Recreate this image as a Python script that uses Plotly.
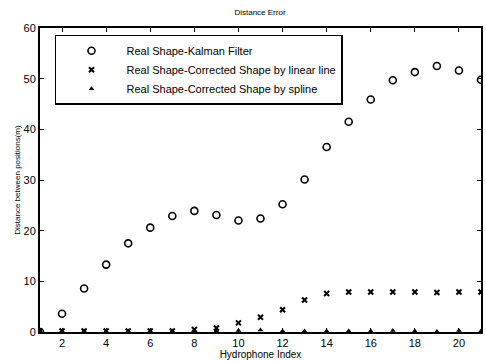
import plotly.graph_objects as go

hydrophone = list(range(1, 22))
kalman = [0.0, 3.6, 8.6, 13.3, 17.5, 20.6, 22.9, 23.9, 23.1, 22.0, 22.4, 25.2, 30.1, 36.5,
          41.5, 45.9, 49.7, 51.3, 52.5, 51.6, 49.8]
linear = [0.2, 0.2, 0.2, 0.2, 0.2, 0.2, 0.2, 0.5, 0.8, 1.8, 2.9, 4.4, 6.3, 7.6,
          7.9, 7.9, 7.9, 7.9, 7.8, 7.9, 7.9]
spline = [0.2, 0.2, 0.2, 0.1, 0.2, 0.2, 0.2, 0.2, 0.2, 0.3, 0.4, 0.2, 0.2, 0.2,
          0.2, 0.2, 0.3, 0.2, 0.1, 0.3, 0.2]
xticks = [2, 4, 6, 8, 10, 12, 14, 16, 18, 20]
yticks = [0, 10, 20, 30, 40, 50, 60]

fig = go.Figure()
fig.add_trace(go.Scatter(x=hydrophone, y=kalman, mode="markers",
                         name="Real Shape-Kalman Filter",
                         marker=dict(symbol="circle-open", size=7, color="black",
                                     line=dict(width=1.6, color="black"))))
fig.add_trace(go.Scatter(x=hydrophone, y=linear, mode="markers",
                         name="Real Shape-Corrected Shape by linear line",
                         marker=dict(symbol="x-thin-open", size=5, color="black",
                                     line=dict(width=2, color="black"))))
fig.add_trace(go.Scatter(x=hydrophone, y=spline, mode="markers",
                         name="Real Shape-Corrected Shape by spline",
                         marker=dict(symbol="triangle-up", size=5, color="black")))

axis_common = dict(showline=True, linecolor="black", linewidth=2, mirror="ticks",
                   ticks="inside", ticklen=4, tickcolor="black", showgrid=False,
                   zeroline=False, tickfont=dict(size=11, color="black", family="Arial Black, Liberation Sans"))

fig.update_xaxes(range=[1, 21], tickvals=xticks, **axis_common,
                 title=dict(text="Hydrophone Index", font=dict(size=10, color="black"), standoff=2))
fig.update_yaxes(range=[0, 60], tickvals=yticks, **axis_common,
                 title=dict(text="Distance between positions(m)", font=dict(size=8, color="black"), standoff=2))

fig.update_layout(
    width=486, height=361,
    margin=dict(l=40, r=3, t=28, b=27),
    paper_bgcolor="white", plot_bgcolor="white",
    font=dict(family="Liberation Sans, Arial", color="black"),
    title=dict(text="Distance Error", x=0.535, xanchor="center", y=0.965, yanchor="middle",
               font=dict(size=8, color="black")),
    showlegend=True,
    legend=dict(x=0.034, y=0.978, xanchor="left", yanchor="top",
                bordercolor="black", borderwidth=1.5, bgcolor="white",
                font=dict(size=11, color="black"), itemwidth=60,
                tracegroupgap=0),
)

fig.write_html("out.html")
